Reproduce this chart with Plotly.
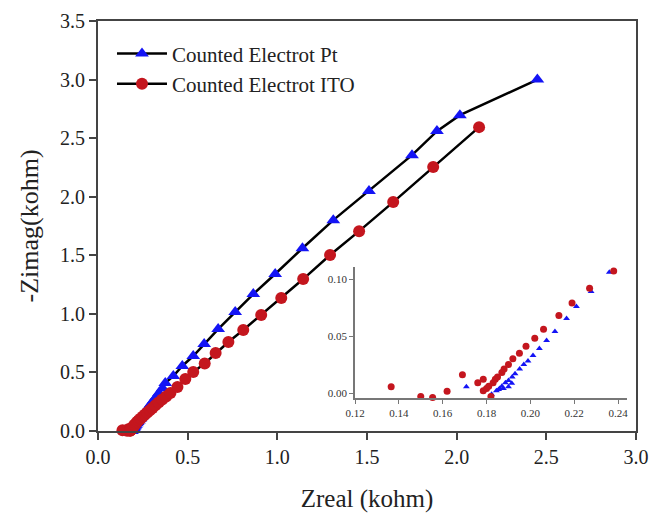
import plotly.graph_objects as go

# Nyquist data (kohm), ordered from high to low frequency
pt_zreal = [0.1708, 0.1823, 0.1845, 0.1855, 0.186, 0.1877, 0.187, 0.190, 0.1886, 0.1915,
            0.190, 0.1917, 0.193, 0.1951, 0.197, 0.1989, 0.2012, 0.2041, 0.2074, 0.2112,
            0.2165, 0.221, 0.2277, 0.236, 0.245, 0.256, 0.268, 0.281, 0.295, 0.31,
            0.325, 0.34, 0.36, 0.375, 0.42, 0.47, 0.531, 0.592, 0.670, 0.765,
            0.866, 0.988, 1.14, 1.312, 1.511, 1.751, 1.890, 2.018, 2.45]
pt_zimag = [0.0055, -0.001, 0.002, 0.003, 0.004, 0.004, 0.006, 0.0055, 0.009, 0.0085,
            0.011, 0.014, 0.017, 0.021, 0.025, 0.028, 0.033, 0.039, 0.046, 0.054,
            0.0655, 0.076, 0.089, 0.106, 0.125, 0.148, 0.173, 0.2, 0.23, 0.26,
            0.29, 0.325, 0.365, 0.41, 0.469, 0.555, 0.640, 0.742, 0.870, 1.015,
            1.169, 1.34, 1.56, 1.80, 2.048, 2.355, 2.56, 2.696, 3.00]

ito_zreal = [0.1365, 0.150, 0.1554, 0.162, 0.169, 0.176, 0.1785, 0.182, 0.1785, 0.180,
             0.181, 0.183, 0.184, 0.185, 0.187, 0.188, 0.190, 0.192, 0.195, 0.198,
             0.202, 0.206, 0.213, 0.219, 0.227, 0.238, 0.25, 0.262, 0.275, 0.289,
             0.304, 0.32, 0.338, 0.358, 0.38, 0.404, 0.443, 0.487, 0.531, 0.595,
             0.656, 0.727, 0.810, 0.910, 1.022, 1.144, 1.294, 1.456, 1.646, 1.869, 2.125]
ito_zimag = [0.0055, -0.003, -0.004, 0.0015, 0.016, 0.009, 0.012, -0.003, 0.002, 0.004,
             0.006, 0.009, 0.012, 0.014, 0.018, 0.021, 0.025, 0.030, 0.035, 0.041,
             0.048, 0.056, 0.068, 0.079, 0.092, 0.107, 0.124, 0.141, 0.158, 0.177,
             0.197, 0.219, 0.243, 0.268, 0.295, 0.324, 0.375, 0.444, 0.503, 0.576,
             0.665, 0.76, 0.862, 0.99, 1.135, 1.297, 1.502, 1.706, 1.954, 2.253, 2.594]

main_xticks = [0.0, 0.5, 1.0, 1.5, 2.0, 2.5, 3.0]
main_yticks = [0.0, 0.5, 1.0, 1.5, 2.0, 2.5, 3.0, 3.5]
inset_xticks = [0.12, 0.14, 0.16, 0.18, 0.20, 0.22, 0.24]
inset_yticks = [0.00, 0.05, 0.10]

BLUE = "#1414f5"
RED = "#c4161e"
SERIF = "Liberation Serif, Times New Roman, serif"

fig = go.Figure()

fig.add_trace(go.Scatter(
    x=pt_zreal, y=pt_zimag, mode="lines+markers", name="Counted Electrot Pt",
    line=dict(color="black", width=2.5),
    marker=dict(symbol="triangle-up", size=12, color=BLUE),
    cliponaxis=False,
))
fig.add_trace(go.Scatter(
    x=ito_zreal, y=ito_zimag, mode="lines+markers", name="Counted Electrot ITO",
    line=dict(color="black", width=2.5),
    marker=dict(symbol="circle", size=12, color=RED),
    cliponaxis=False,
))

# inset: zoom on the high-frequency intercept
fig.add_trace(go.Scatter(
    x=pt_zreal, y=pt_zimag, mode="markers", showlegend=False,
    marker=dict(symbol="triangle-up", size=6, color=BLUE),
    xaxis="x2", yaxis="y2", cliponaxis=False,
))
fig.add_trace(go.Scatter(
    x=ito_zreal, y=ito_zimag, mode="markers", showlegend=False,
    marker=dict(symbol="circle", size=7, color=RED),
    xaxis="x2", yaxis="y2", cliponaxis=False,
))

axis_common = dict(showgrid=False, zeroline=False, showline=True, linecolor="#444",
                   linewidth=2, ticks="outside", ticklen=7, tickwidth=2, tickcolor="#444",
                   mirror=True, automargin=False,
                   tickfont=dict(family=SERIF, size=20, color="#222"))

inset_common = dict(showgrid=False, zeroline=False, showline=True, linecolor="#777",
                    linewidth=1.5, ticks="outside", ticklen=4, tickcolor="#777",
                    tickfont=dict(family=SERIF, size=11, color="#333"))

fig.update_layout(
    width=651, height=516,
    margin=dict(l=98, r=15, t=21, b=85),
    plot_bgcolor="white", paper_bgcolor="white",
    font=dict(family=SERIF, color="#222"),
    xaxis=dict(range=[0, 3.0], tickvals=main_xticks,
               ticktext=[f"{v:.1f}" for v in main_xticks],
               title=dict(text="Zreal (kohm)", font=dict(family=SERIF, size=25, color="#222"),
                          standoff=22),
               **axis_common),
    yaxis=dict(range=[0, 3.5], tickvals=main_yticks,
               ticktext=[f"{v:.1f}" for v in main_yticks],
               title=dict(text="-Zimag(kohm)", font=dict(family=SERIF, size=26, color="#222"),
                          standoff=14),
               **axis_common),
    xaxis2=dict(domain=[0.4777, 0.983], anchor="y2", range=[0.12, 0.244],
                tickvals=inset_xticks, ticktext=[f"{v:.2f}" for v in inset_xticks],
                **inset_common),
    yaxis2=dict(domain=[0.0804, 0.3997], anchor="x2", range=[-0.0044, 0.1105],
                tickvals=inset_yticks, ticktext=[f"{v:.2f}" for v in inset_yticks],
                **inset_common),
    legend=dict(x=0.026, y=0.97, xanchor="left", yanchor="top",
                bgcolor="rgba(0,0,0,0)", itemwidth=50,
                font=dict(family=SERIF, size=21, color="#222"), tracegroupgap=0),
    showlegend=True,
)

fig.write_html("out.html")
